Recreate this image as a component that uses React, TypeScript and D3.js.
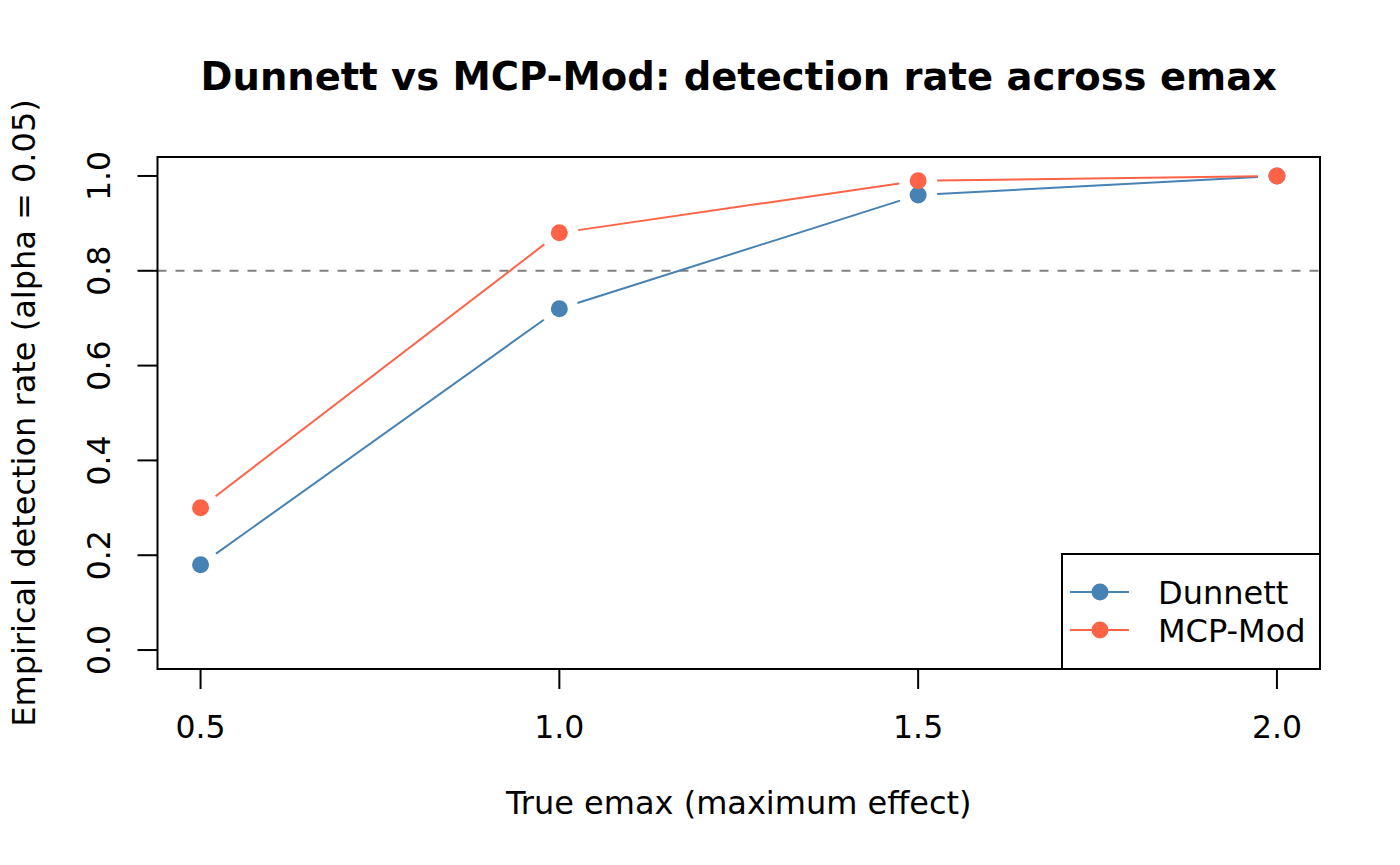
import React from 'react';
import * as d3 from 'd3';

const emax = [0.5, 1.0, 1.5, 2.0];
const dunnett = [0.18, 0.72, 0.96, 1.0];
const mcpMod = [0.3, 0.88, 0.99, 1.0];
const xTicks = [0.5, 1.0, 1.5, 2.0];
const yTicks = [0.0, 0.2, 0.4, 0.6, 0.8, 1.0];
const target = 0.8;

const series = [
  { name: 'Dunnett', values: dunnett, color: '#4682B4' },
  { name: 'MCP-Mod', values: mcpMod, color: '#FF6347' },
];

const WIDTH = 1400;
const HEIGHT = 865;
// plot box, as R draws it
const BOX = { left: 157.5, right: 1320, top: 157, bottom: 669 };
const FONT = '"DejaVu Sans", sans-serif';
const GAP = 19; // type="b" leaves a gap round each point
const R = 8.5;

const App: React.FC = () => {
  // R pads the data range by 4% on each side
  const x = d3.scaleLinear().domain([0.44, 2.06]).range([BOX.left, BOX.right]);
  const y = d3.scaleLinear().domain([-0.04, 1.04]).range([BOX.bottom, BOX.top]);

  const segments = (vals: number[]) => {
    const out: { x1: number; y1: number; x2: number; y2: number }[] = [];
    for (let i = 0; i < vals.length - 1; i++) {
      const ax = x(emax[i]), ay = y(vals[i]);
      const bx = x(emax[i + 1]), by = y(vals[i + 1]);
      const len = Math.hypot(bx - ax, by - ay);
      if (len <= 2 * GAP) continue;
      const ux = (bx - ax) / len, uy = (by - ay) / len;
      out.push({ x1: ax + ux * GAP, y1: ay + uy * GAP, x2: bx - ux * GAP, y2: by - uy * GAP });
    }
    return out;
  };

  const legend = { left: 1062, top: 554, right: BOX.right, bottom: BOX.bottom };
  const legendRows = [592, 630];

  return (
    <svg
      width={WIDTH}
      height={HEIGHT}
      viewBox={`0 0 ${WIDTH} ${HEIGHT}`}
      style={{ position: 'absolute', left: 0, top: 0, background: '#fff', fontFamily: FONT }}
    >
      <rect x={0} y={0} width={WIDTH} height={HEIGHT} fill="#fff" />

      {/* title */}
      <text x={(BOX.left + BOX.right) / 2} y={90} textAnchor="middle" fontSize={38.5} fontWeight="bold">
        Dunnett vs MCP-Mod: detection rate across emax
      </text>

      {/* reference line */}
      <line
        x1={BOX.left}
        x2={BOX.right}
        y1={y(target)}
        y2={y(target)}
        stroke="#808080"
        strokeWidth={2}
        strokeDasharray="9 9"
      />

      {/* series */}
      {series.map((s) => (
        <g key={s.name}>
          {segments(s.values).map((d, i) => (
            <line key={i} {...d} stroke={s.color} strokeWidth={2} />
          ))}
          {s.values.map((v, i) => (
            <circle key={i} cx={x(emax[i])} cy={y(v)} r={R} fill={s.color} />
          ))}
        </g>
      ))}

      {/* plot box */}
      <rect
        x={BOX.left}
        y={BOX.top}
        width={BOX.right - BOX.left}
        height={BOX.bottom - BOX.top}
        fill="none"
        stroke="#000"
        strokeWidth={2}
      />

      {/* x axis */}
      <line x1={x(xTicks[0])} x2={x(xTicks[xTicks.length - 1])} y1={BOX.bottom} y2={BOX.bottom} stroke="#000" strokeWidth={2} />
      {xTicks.map((t) => (
        <g key={t}>
          <line x1={x(t)} x2={x(t)} y1={BOX.bottom} y2={BOX.bottom + 20} stroke="#000" strokeWidth={2} />
          <text x={x(t)} y={738} textAnchor="middle" fontSize={31.5}>
            {t.toFixed(1)}
          </text>
        </g>
      ))}
      <text x={(BOX.left + BOX.right) / 2} y={814} textAnchor="middle" fontSize={32}>
        True emax (maximum effect)
      </text>

      {/* y axis */}
      {yTicks.map((t) => (
        <g key={t}>
          <line x1={BOX.left - 20} x2={BOX.left} y1={y(t)} y2={y(t)} stroke="#000" strokeWidth={2} />
          <text transform={`translate(110,${y(t)}) rotate(-90)`} textAnchor="middle" fontSize={31.5}>
            {t.toFixed(1)}
          </text>
        </g>
      ))}
      <text
        transform={`translate(35,${(BOX.top + BOX.bottom) / 2}) rotate(-90)`}
        textAnchor="middle"
        fontSize={32}
      >
        Empirical detection rate (alpha = 0.05)
      </text>

      {/* legend */}
      <rect
        x={legend.left}
        y={legend.top}
        width={legend.right - legend.left}
        height={legend.bottom - legend.top}
        fill="#fff"
        stroke="#000"
        strokeWidth={2}
      />
      {series.map((s, i) => (
        <g key={s.name}>
          <line x1={1070} x2={1129} y1={legendRows[i]} y2={legendRows[i]} stroke={s.color} strokeWidth={2} />
          <circle cx={1100} cy={legendRows[i]} r={R} fill={s.color} />
          <text x={1158} y={legendRows[i]} dy="0.36em" fontSize={32}>
            {s.name}
          </text>
        </g>
      ))}
    </svg>
  );
};

export default App;
